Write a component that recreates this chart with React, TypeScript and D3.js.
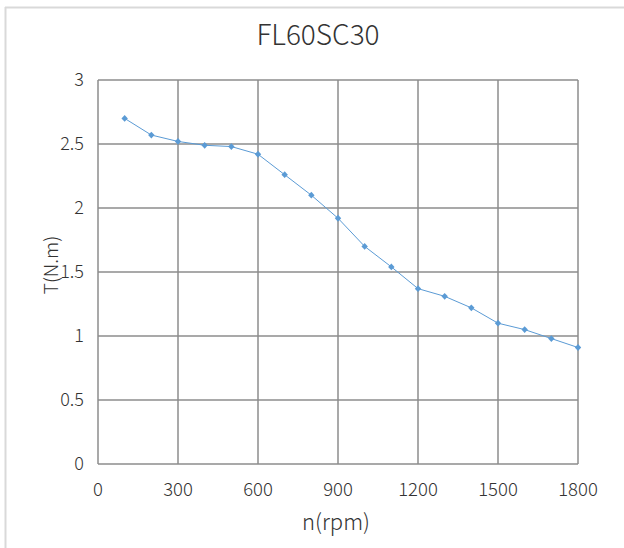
import React from "react";
import * as d3 from "d3";

const speeds = [100, 200, 300, 400, 500, 600, 700, 800, 900, 1000, 1100, 1200, 1300, 1400, 1500, 1600, 1700, 1800];
const torque = [2.7, 2.57, 2.52, 2.49, 2.48, 2.42, 2.26, 2.1, 1.92, 1.7, 1.54, 1.37, 1.31, 1.22, 1.1, 1.05, 0.98, 0.91];
const xTicks = [0, 300, 600, 900, 1200, 1500, 1800];
const yTicks = [0, 0.5, 1, 1.5, 2, 2.5, 3];
const title = "FL60SC30";
const xTitle = "n(rpm)";
const yTitle = "T(N.m)";

const W = 624;
const H = 548;
const left = 98;
const right = 578;
const top = 80;
const bottom = 464;
const font = "'Noto Sans CJK SC', 'Noto Sans', sans-serif";

export default function App() {
  const x = d3.scaleLinear().domain([0, 1800]).range([left, right]);
  const y = d3.scaleLinear().domain([0, 3]).range([bottom, top]);
  const line = d3
    .line<number>()
    .x((_, i) => x(speeds[i]))
    .y((d) => y(d));
  const diamond = "M0,-3.4L3.2,0L0,3.4L-3.2,0Z";
  const grid = "#8c8c8c";
  const blue = "#5b9bd5";
  return (
    <svg
      width={W}
      height={H}
      style={{ position: "absolute", left: 0, top: 0, background: "#fff" }}
    >
      <rect x={0} y={0} width={W} height={H} fill="#fff" />
      <line x1={5.5} y1={7} x2={5.5} y2={H} stroke="#d9d9d9" strokeWidth={2} />
      <line x1={5} y1={7.5} x2={W} y2={7.5} stroke="#d9d9d9" strokeWidth={2} />
      <text
        x={318}
        y={45}
        textAnchor="middle"
        fontFamily={font}
        fontWeight={300}
        fontSize={28}
        fill="#333"
      >
        {title}
      </text>
      {yTicks.map((t) => (
        <line key={"gy" + t} x1={left} x2={right} y1={y(t)} y2={y(t)} stroke={grid} strokeWidth={1.5} />
      ))}
      {xTicks.map((t) => (
        <line key={"gx" + t} x1={x(t)} x2={x(t)} y1={top} y2={bottom} stroke={grid} strokeWidth={1.5} />
      ))}
      {yTicks.map((t) => (
        <text
          key={"ty" + t}
          x={84}
          y={y(t)}
          dy="0.35em"
          textAnchor="end"
          fontFamily={font}
          fontWeight={300}
          fontSize={18}
          fill="#333"
        >
          {t}
        </text>
      ))}
      {xTicks.map((t) => (
        <text
          key={"tx" + t}
          x={x(t)}
          y={496}
          textAnchor="middle"
          fontFamily={font}
          fontWeight={300}
          fontSize={18.5}
          fill="#333"
        >
          {t}
        </text>
      ))}
      <text
        x={336}
        y={530}
        textAnchor="middle"
        fontFamily={font}
        fontWeight={300}
        fontSize={22}
        fill="#333"
      >
        {xTitle}
      </text>
      <text
        transform={`translate(51,265) rotate(-90)`}
        dy="0.35em"
        textAnchor="middle"
        fontFamily={font}
        fontWeight={300}
        fontSize={19}
        fill="#333"
      >
        {yTitle}
      </text>
      <path d={line(torque) || ""} fill="none" stroke={blue} strokeWidth={1} />
      {torque.map((v, i) => (
        <path key={"m" + i} d={diamond} transform={`translate(${x(speeds[i])},${y(v)})`} fill={blue} stroke="none" />
      ))}
    </svg>
  );
}
